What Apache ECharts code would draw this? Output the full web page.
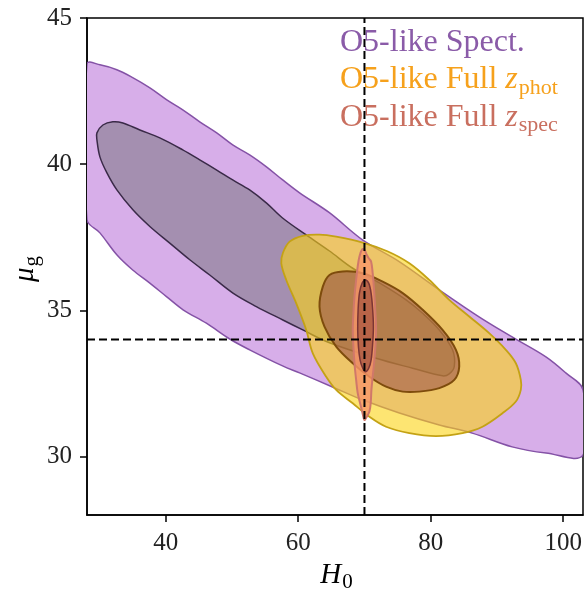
<!DOCTYPE html>
<html>
<head>
<meta charset="utf-8">
<script src="https://cdn.jsdelivr.net/npm/echarts@6/dist/echarts.min.js"></script>
<style>
  html, body { margin: 0; padding: 0; background: #fff; }
  #chart { width: 584px; height: 590px; }
</style>
</head>
<body>
<div id="chart"></div>
<script>
// Credible-region outlines in the (H0, mu_g) plane, as [H0, mu_g] vertices.
const spectOuter = [
  [28.1,43.43],[30.05,43.40],[32.6,43.23],[35.0,42.96],[37.6,42.61],[40.15,42.2],[42.56,41.86],
  [45.12,41.45],[47.69,41.07],[50.1,40.66],[52.66,40.32],[55.2,39.91],[57.6,39.47],[60.2,39.02],
  [64.7,38.34],[69.7,37.41],[75.3,36.66],[81.3,35.70],[87.3,34.78],[92.3,34.09],[97.4,33.41],
  [100.4,32.86],[103,32.28],[103,30.05],[97.42,30.12],[92.3,30.33],[86.27,30.80],[81.3,31.08],
  [75.27,31.49],[69.69,31.94],[65.17,32.38],[60.2,32.86],[57.63,33.10],[52.66,33.65],[49.65,34.02],
  [46.13,34.56],[42.61,35.02],[40.1,35.47],[37.59,35.93],[35.0,36.38],[32.6,36.9],[30.05,37.65],[28.1,38.1]
];
const spectInner = [
  [29.6,40.83],[29.6,41.07],[30.5,41.34],[32.01,41.45],[33.52,41.41],[36.08,41.17],[39.1,40.90],
  [42.56,40.49],[45.12,40.15],[47.69,39.80],[50.1,39.46],[52.66,39.12],[55.22,38.67],[57.63,38.16],
  [61.21,37.58],[64.72,37.03],[68.23,36.44],[72.25,35.94],[76.28,35.36],[78.78,34.90],[81.3,34.33],
  [83.3,33.65],[83.56,33.08],[82.8,32.83],[81.79,32.76],[77.27,33.02],[71.75,33.36],[64.72,33.89],
  [60.69,34.33],[57.68,34.67],[53.67,35.13],[50.14,35.59],[46.63,36.21],[43.62,36.73],[40.6,37.30],
  [37.59,37.87],[35.03,38.44],[32.61,39.12],[31.11,39.70],[30.05,40.25]
];
const photOuter = [
  [57.44,36.61],[57.68,36.96],[58.69,37.35],[60.69,37.55],[63.21,37.59],[65.73,37.52],[69.74,37.32],
  [73.46,37.02],[76.78,36.61],[79.79,36.04],[82.80,35.36],[85.82,34.79],[88.83,34.22],[91.35,33.65],
  [92.86,33.19],[93.61,32.62],[93.61,32.28],[92.86,31.88],[90.84,31.48],[87.82,31.02],[84.81,30.80],
  [80.80,30.70],[76.78,30.80],[73.26,31.02],[70.75,31.36],[68.23,31.82],[65.73,32.28],[64.22,32.73],
  [62.20,33.53],[61.21,34.33],[59.70,35.24],[58.19,36.04]
];
const photInner = [
  [63.71,35.81],[64.72,36.21],[66.72,36.33],[69.74,36.27],[72.75,35.98],[75.77,35.59],[78.78,35.02],
  [81.79,34.33],[83.81,33.65],[84.31,33.08],[83.56,32.62],[81.30,32.34],[78.28,32.22],[75.77,32.22],
  [73.26,32.39],[70.75,32.73],[68.23,33.19],[65.73,33.76],[63.96,34.44],[63.21,35.13]
];
const specOuter = [
  [69.65,37.09],[69.24,36.84],[68.98,36.50],[68.74,36.04],[68.49,35.47],[68.33,34.90],[68.23,34.33],
  [68.33,33.76],[68.49,33.19],[68.74,32.62],[68.98,32.17],[69.34,31.82],[69.65,31.54],[70.0,31.25],
  [70.34,31.36],[70.75,31.54],[70.94,31.82],[71.05,32.28],[71.24,32.73],[71.45,33.19],[71.65,33.76],
  [71.76,34.33],[71.65,34.90],[71.45,35.70],[71.24,36.27],[71.0,36.67],[70.64,36.78],[70.34,36.90],[70.0,37.07]
];
const specInner = [
  [70.14,36.04],[69.65,35.93],[69.24,35.59],[69.04,35.02],[68.98,34.33],[69.09,33.76],[69.34,33.30],
  [69.74,33.02],[70.14,32.90],[70.64,33.02],[71.0,33.30],[71.24,33.87],[71.35,34.44],[71.24,35.02],
  [71.0,35.59],[70.64,35.93]
];

// Fiducial values marked by the dashed lines
const trueH0 = 70;
const trueMu = 34;

const xTicks = [40, 60, 80, 100];
const yTicks = [30, 35, 40, 45];
const xRange = [28.1, 103];
const yRange = [28, 45];

// Legend entries: main text, subscript, colour
const legendMain = ['O5-like Spect.', 'O5-like Full ', 'O5-like Full '];
const legendSub = ['', 'phot', 'spec'];
const legendColors = ['#8a5ba8', '#f6a11c', '#c96f5f'];

const serifFamily = 'Liberation Serif';
const serif = "'Liberation Serif', 'DejaVu Serif', serif";

const measureCtx = document.createElement('canvas').getContext('2d');
function textWidth(text, size, style) {
  measureCtx.font = (style || 'normal') + ' ' + size + "px '" + serifFamily + "'";
  return measureCtx.measureText(text).width;
}

function region(name, pts, fill, stroke, lw, z) {
  return {
    type: 'custom',
    name: name,
    data: pts,
    z: z,
    clip: true,
    silent: true,
    encode: { x: 0, y: 1 },
    renderItem: function (params, api) {
      if (params.dataIndex !== 0) return null;
      return {
        type: 'polygon',
        shape: { points: pts.map(function (p) { return api.coord(p); }), smooth: 0.35 },
        style: { fill: fill, stroke: stroke, lineWidth: lw }
      };
    }
  };
}

function refLine(data) {
  return {
    type: 'line',
    data: data,
    z: 20,
    symbol: 'none',
    silent: true,
    lineStyle: { color: '#000', width: 2, type: [8, 4] }
  };
}

function txt(x, y, text, size, color, italic) {
  return {
    type: 'text', x: x, y: y, silent: true,
    style: {
      text: text, fill: color, fontSize: size, fontFamily: serif,
      fontStyle: italic ? 'italic' : 'normal', align: 'left', verticalAlign: 'middle'
    }
  };
}

// Legend: plain text, then italic z with an upright subscript
const LEG_X = 340, LEG_Y0 = 42.5, LEG_DY = 37.5, LEG_SIZE = 32, SUB_SIZE = 22;
const legendItems = [];
legendMain.forEach(function (main, i) {
  const y = LEG_Y0 + i * LEG_DY;
  const c = legendColors[i];
  legendItems.push(txt(LEG_X, y, main, LEG_SIZE, c, false));
  if (legendSub[i]) {
    const x1 = LEG_X + textWidth(main, LEG_SIZE);
    legendItems.push(txt(x1, y, 'z', LEG_SIZE, c, true));
    const x2 = x1 + textWidth('z', LEG_SIZE, 'italic') + 1;
    legendItems.push(txt(x2, y + 8, legendSub[i], SUB_SIZE, c, false));
  }
});

// Axis titles
const hW = textWidth('H', 29, 'italic');
const zW = textWidth('0', 21);
const hX = 336 - (hW + zW) / 2;
const xTitle = {
  type: 'group', silent: true,
  children: [txt(hX, 575, 'H', 29, '#000', true), txt(hX + hW + 1, 582, '0', 21, '#000', false)]
};
const muW = textWidth('μ', 29, 'italic');
const yTitle = {
  type: 'group', x: 25, y: 282, rotation: Math.PI / 2, silent: true,
  children: [txt(0, 0, 'μ', 29, '#000', true), txt(muW + 1, 7, 'g', 21, '#000', false)]
};

const chart = echarts.init(document.getElementById('chart'), null, { renderer: 'canvas' });

chart.setOption({
  animation: false,
  backgroundColor: '#fff',
  grid: {
    left: 87, right: 1, top: 18, bottom: 75, containLabel: false, outerBoundsMode: 'none',
    show: true, borderColor: '#000', borderWidth: 1.5, backgroundColor: 'transparent'
  },
  xAxis: {
    type: 'value', min: xRange[0], max: xRange[1],
    splitLine: { show: false },
    axisLine: { lineStyle: { color: '#000', width: 1.5 } },
    axisTick: { customValues: xTicks, length: 7, lineStyle: { color: '#000', width: 1.5 } },
    axisLabel: { customValues: xTicks, color: '#222', fontFamily: serif, fontSize: 25, margin: 16 }
  },
  yAxis: {
    type: 'value', min: yRange[0], max: yRange[1],
    splitLine: { show: false },
    axisLine: { lineStyle: { color: '#000', width: 1.5 } },
    axisTick: { customValues: yTicks, length: 7, lineStyle: { color: '#000', width: 1.5 } },
    axisLabel: { customValues: yTicks, color: '#222', fontFamily: serif, fontSize: 25, margin: 15 }
  },
  graphic: [
    { type: 'group', z: 10, silent: true, children: legendItems },
    xTitle,
    yTitle
  ],
  series: [
    region('spectOuter', spectOuter, '#d7aee9', '#8452a6', 1.5, 1),
    region('spectInner', spectInner, '#a48fb0', '#3a2a48', 1.5, 2),
    region('photOuter', photOuter, 'rgba(252,212,20,0.6)', '#c4a215', 1.8, 3),
    region('photInner', photInner, 'rgba(150,72,70,0.52)', '#7e4c0c', 2, 4),
    region('specOuter', specOuter, 'rgba(248,150,105,0.8)', '#d0786a', 2, 5),
    region('specInner', specInner, 'rgba(150,70,55,0.6)', '#7a3535', 1.5, 6),
    refLine([[trueH0, yRange[0]], [trueH0, yRange[1]]]),
    refLine([[xRange[0], trueMu], [xRange[1], trueMu]])
  ]
});
</script>
</body>
</html>
